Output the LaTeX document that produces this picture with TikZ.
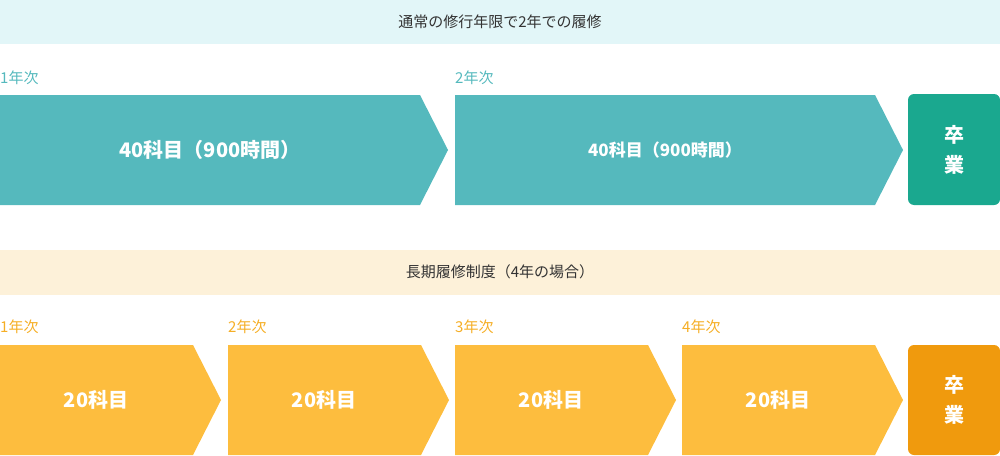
\documentclass[tikz,border=0pt]{standalone}
\usepackage{fontspec}
\setmainfont{Noto Sans CJK JP}
\newfontfamily\jpb{Noto Sans CJK JP}[BoldFont={Noto Sans CJK JP Bold}]
\definecolor{tealA}{HTML}{55B9BD}
\definecolor{tealB}{HTML}{1AA88F}
\definecolor{tealBg}{HTML}{E2F6F8}
\definecolor{orA}{HTML}{FDBD3E}
\definecolor{orB}{HTML}{F09A0D}
\definecolor{orBg}{HTML}{FDF1D9}
\definecolor{orT}{HTML}{F5AE25}
\definecolor{txt}{HTML}{333333}
\begin{document}
\begin{tikzpicture}[x=1pt,y=-1pt,
  banner/.style={font=\fontsize{15}{18}\selectfont,text=txt},
  yr/.style={anchor=west,inner sep=0pt,font=\fontsize{15}{18}\selectfont},
  lbl/.style={text=white,font=\fontsize{#1}{24}\selectfont\bfseries},
  grad/.style={text=white,font=\fontsize{20}{30}\selectfont\bfseries,align=center}]
\useasboundingbox (0,0) rectangle (1000,455);
% top
\fill[tealBg] (0,0) rectangle (1000,44);
\node[banner] (t1) at (500,22) {通常の修行年限で2年での履修};
\node[yr,text=tealA] (y1) at (0,78) {1年次};
\node[yr,text=tealA] (y2) at (455,78) {2年次};
\fill[tealA] (0,95) -- (420,95) -- (448,150) -- (420,205) -- (0,205) -- cycle;
\fill[tealA] (455,95) -- (875,95) -- (903,150) -- (875,205) -- (455,205) -- cycle;
\node[lbl=20] (a1) at (210,150) {40科目（900時間）};
\node[lbl=17] (a2) at (665,150) {40科目（900時間）};
\fill[tealB,rounded corners=6pt] (908,94) rectangle (1000,205);
\node[grad] (g1) at (954,150) {卒\\業};
% bottom
\fill[orBg] (0,250) rectangle (1000,295);
\node[banner] (t2) at (500,272) {長期履修制度（4年の場合）};
\foreach \i/\x in {1/0,2/228,3/455,4/682}{
  \node[yr,text=orT] (yb\i) at (\x,327) {\i 年次};
  \fill[orA] (\x,345) -- (\x+193,345) -- (\x+221,400) -- (\x+193,455) -- (\x,455) -- cycle;
  \node[lbl=20] (b\i) at (\x+96,400) {20科目};
}
\fill[orB,rounded corners=6pt] (908,345) rectangle (1000,455);
\node[grad] (g2) at (954,400) {卒\\業};
\end{tikzpicture}
\end{document}
